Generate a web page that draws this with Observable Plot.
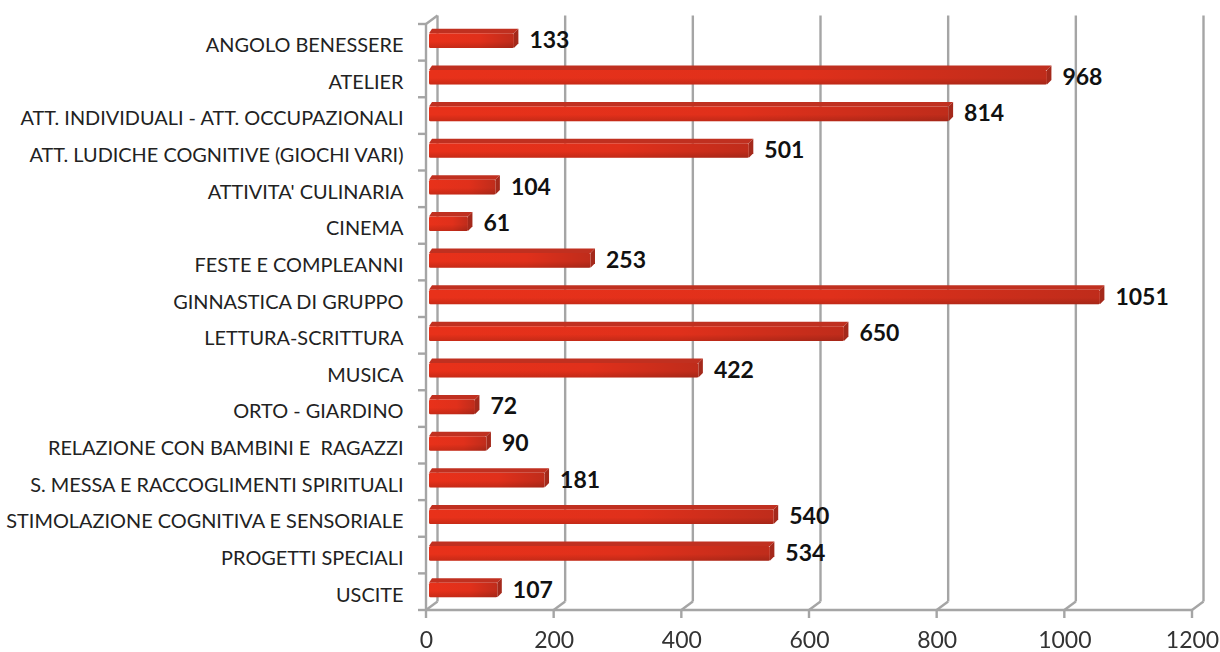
<!DOCTYPE html>
<html><head><meta charset="utf-8">
<script src="https://cdn.jsdelivr.net/npm/d3@7"></script>
<script src="https://cdn.jsdelivr.net/npm/@observablehq/plot@0.6"></script>
<style>
html,body{margin:0;padding:0;background:#fff}
svg{display:block;filter:blur(.5px)}
</style></head><body><div id="chart"></div>
<script>
const categories = ["ANGOLO BENESSERE","ATELIER","ATT. INDIVIDUALI - ATT. OCCUPAZIONALI","ATT. LUDICHE COGNITIVE (GIOCHI VARI)","ATTIVITA' CULINARIA","CINEMA","FESTE E COMPLEANNI","GINNASTICA DI GRUPPO","LETTURA-SCRITTURA","MUSICA","ORTO - GIARDINO","RELAZIONE CON BAMBINI E  RAGAZZI","S. MESSA E RACCOGLIMENTI SPIRITUALI","STIMOLAZIONE COGNITIVA E SENSORIALE","PROGETTI SPECIALI","USCITE"];
const values = [133,968,814,501,104,61,253,1051,650,422,72,90,181,540,534,107];
const xTicks = [0,200,400,600,800,1000,1200];
const rows = categories.map((name,i)=>({name,value:values[i]}));

const DX=11.5, DY=-8.5, GRID="#a5a5a5", FONT="Lato, 'Open Sans', sans-serif";
const NS="http://www.w3.org/2000/svg";
function el(tag,attrs,parent){const e=document.createElementNS(NS,tag);for(const k in attrs)e.setAttribute(k,attrs[k]);parent.appendChild(e);return e;}

// Floor, left wall and tick marks: positions come from Plot's scales
function walls(index,scales,channels,dims){
  const g=document.createElementNS(NS,"g");
  const x0=scales.x(0), yB=dims.height-dims.marginBottom, yT=dims.marginTop, step=scales.y.step();
  const line=(a,b,c,d)=>el("line",{x1:a,y1:b,x2:c,y2:d,stroke:GRID,"stroke-width":2.4},g);
  for(const t of xTicks){
    const x=scales.x(t);
    line(x+DX,yT+DY,x+DX,yB+DY);
    line(x,yB,x+DX,yB+DY);
    line(x,yB,x,yB+8);
  }
  line(x0,yB,scales.x(1200),yB);
  line(x0,yT,x0,yB);
  line(x0,yT,x0+DX,yT+DY);
  const top=scales.y(categories[0]);
  for(let i=0;i<=categories.length;i++){const y=top+i*step;line(x0-8,y,x0,y);}
  return g;
}

// 3D top and end faces for every bar
function faces(index,scales,channels,dims,context,next){
  const g=next(index,scales,channels,dims,context);
  const rects=[...g.querySelectorAll("rect")];
  const d=4.5;
  rects.forEach(r=>{
    const x=+r.getAttribute("x"),y=+r.getAttribute("y"),w=+r.getAttribute("width"),h=+r.getAttribute("height");
    const t=document.createElementNS(NS,"polygon");
    t.setAttribute("points",`${x},${y} ${x+3},${y-d} ${x+w+d},${y-d} ${x+w},${y}`);
    t.setAttribute("fill","#c03020");
    const s=document.createElementNS(NS,"polygon");
    s.setAttribute("points",`${x+w},${y} ${x+w+d},${y-d} ${x+w+d},${y+h-d} ${x+w},${y+h}`);
    s.setAttribute("fill","#a4291b");
    r.parentNode.insertBefore(t,r);
    r.parentNode.insertBefore(s,r);
  });
  return g;
}

const barOpts = {x:"value",y:"name",dx:3,dy:-1.7,insetTop:11,insetBottom:11,rx:1.5};
const plot = Plot.plot({
  width:1220,height:652,
  marginLeft:426,marginRight:28,marginTop:24,marginBottom:42,
  style:{fontFamily:FONT,background:"#fff",overflow:"visible"},
  x:{domain:[0,1200],ticks:xTicks,label:null},
  y:{domain:categories,label:null,padding:0,align:0.5,round:false},
  marks:[
    Plot.ruleX([0],{x:d=>d,strokeOpacity:0,render:(i,s,c,d)=>walls(i,s,c,d)}),
    Plot.axisY({tickSize:0,tickPadding:23,label:null,fontSize:19.9,dy:3,color:"#222"}),
    Plot.axisX({ticks:xTicks,tickSize:0,tickPadding:21,label:null,fontSize:23,color:"#333",tickFormat:d=>String(d)}),
    Plot.barX(rows,{...barOpts,fill:"url(#barGrad)",render:faces}),
    Plot.barX(rows,{...barOpts,fill:"url(#barShade)"}),
    Plot.text(rows,{x:"value",y:"name",text:d=>String(d.value),textAnchor:"start",dx:18,dy:-2,fontSize:23,fontWeight:"bold",fill:"#111"})
  ]
});
const defs=document.createElementNS(NS,"defs");
defs.innerHTML=`<linearGradient id="barGrad" x1="0" y1="0" x2="1" y2="0"><stop offset="0" stop-color="#e8311a"/><stop offset=".6" stop-color="#e0301b"/><stop offset="1" stop-color="#bf2c1b"/></linearGradient>
<linearGradient id="barShade" x1="0" y1="0" x2="0" y2="1"><stop offset="0" stop-color="#000" stop-opacity="0"/><stop offset=".55" stop-color="#000" stop-opacity="0"/><stop offset="1" stop-color="#000" stop-opacity=".14"/></linearGradient>`;
plot.insertBefore(defs,plot.firstChild);
document.getElementById("chart").appendChild(plot);
</script></body></html>
